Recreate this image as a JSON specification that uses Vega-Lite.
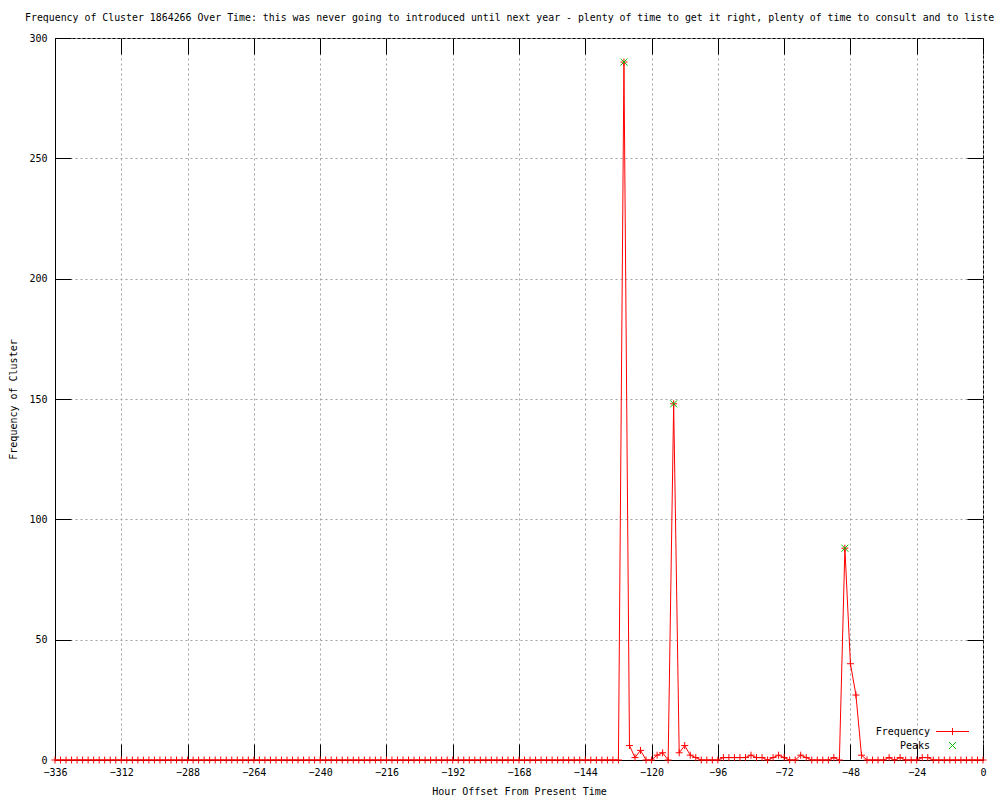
{
  "$schema": "https://vega.github.io/schema/vega-lite/v6.json",
  "width": 928,
  "height": 722,
  "autosize": {"type": "none"},
  "padding": {"left": 55, "top": 38, "right": 17, "bottom": 40},
  "background": "white",
  "title": {
    "text": "Frequency of Cluster 1864266 Over Time: this was never going to introduced until next year - plenty of time to get it right, plenty of time to consult and to liste",
    "anchor": "start",
    "frame": "group",
    "dx": -30,
    "dy": 15,
    "offset": 17,
    "baseline": "alphabetic",
    "font": "DejaVu Sans Mono",
    "fontSize": 9.9,
    "fontWeight": "normal",
    "color": "black"
  },
  "datasets": {
    "freq": [
      {"h": -336, "f": 0}, {"h": -334, "f": 0}, {"h": -332, "f": 0}, {"h": -330, "f": 0}, {"h": -328, "f": 0},
      {"h": -326, "f": 0}, {"h": -324, "f": 0}, {"h": -322, "f": 0}, {"h": -320, "f": 0}, {"h": -318, "f": 0},
      {"h": -316, "f": 0}, {"h": -314, "f": 0}, {"h": -312, "f": 0}, {"h": -310, "f": 0}, {"h": -308, "f": 0},
      {"h": -306, "f": 0}, {"h": -304, "f": 0}, {"h": -302, "f": 0}, {"h": -300, "f": 0}, {"h": -298, "f": 0},
      {"h": -296, "f": 0}, {"h": -294, "f": 0}, {"h": -292, "f": 0}, {"h": -290, "f": 0}, {"h": -288, "f": 0},
      {"h": -286, "f": 0}, {"h": -284, "f": 0}, {"h": -282, "f": 0}, {"h": -280, "f": 0}, {"h": -278, "f": 0},
      {"h": -276, "f": 0}, {"h": -274, "f": 0}, {"h": -272, "f": 0}, {"h": -270, "f": 0}, {"h": -268, "f": 0},
      {"h": -266, "f": 0}, {"h": -264, "f": 0}, {"h": -262, "f": 0}, {"h": -260, "f": 0}, {"h": -258, "f": 0},
      {"h": -256, "f": 0}, {"h": -254, "f": 0}, {"h": -252, "f": 0}, {"h": -250, "f": 0}, {"h": -248, "f": 0},
      {"h": -246, "f": 0}, {"h": -244, "f": 0}, {"h": -242, "f": 0}, {"h": -240, "f": 0}, {"h": -238, "f": 0},
      {"h": -236, "f": 0}, {"h": -234, "f": 0}, {"h": -232, "f": 0}, {"h": -230, "f": 0}, {"h": -228, "f": 0},
      {"h": -226, "f": 0}, {"h": -224, "f": 0}, {"h": -222, "f": 0}, {"h": -220, "f": 0}, {"h": -218, "f": 0},
      {"h": -216, "f": 0}, {"h": -214, "f": 0}, {"h": -212, "f": 0}, {"h": -210, "f": 0}, {"h": -208, "f": 0},
      {"h": -206, "f": 0}, {"h": -204, "f": 0}, {"h": -202, "f": 0}, {"h": -200, "f": 0}, {"h": -198, "f": 0},
      {"h": -196, "f": 0}, {"h": -194, "f": 0}, {"h": -192, "f": 0}, {"h": -190, "f": 0}, {"h": -188, "f": 0},
      {"h": -186, "f": 0}, {"h": -184, "f": 0}, {"h": -182, "f": 0}, {"h": -180, "f": 0}, {"h": -178, "f": 0},
      {"h": -176, "f": 0}, {"h": -174, "f": 0}, {"h": -172, "f": 0}, {"h": -170, "f": 0}, {"h": -168, "f": 0},
      {"h": -166, "f": 0}, {"h": -164, "f": 0}, {"h": -162, "f": 0}, {"h": -160, "f": 0}, {"h": -158, "f": 0},
      {"h": -156, "f": 0}, {"h": -154, "f": 0}, {"h": -152, "f": 0}, {"h": -150, "f": 0}, {"h": -148, "f": 0},
      {"h": -146, "f": 0}, {"h": -144, "f": 0}, {"h": -142, "f": 0}, {"h": -140, "f": 0}, {"h": -138, "f": 0},
      {"h": -136, "f": 0}, {"h": -134, "f": 0}, {"h": -132, "f": 0}, {"h": -130, "f": 290}, {"h": -128, "f": 6},
      {"h": -126, "f": 1}, {"h": -124, "f": 4}, {"h": -122, "f": 0}, {"h": -120, "f": 0}, {"h": -118, "f": 2},
      {"h": -116, "f": 3}, {"h": -114, "f": 0}, {"h": -112, "f": 148}, {"h": -110, "f": 3}, {"h": -108, "f": 6},
      {"h": -106, "f": 2}, {"h": -104, "f": 1}, {"h": -102, "f": 0}, {"h": -100, "f": 0}, {"h": -98, "f": 0},
      {"h": -96, "f": 0}, {"h": -94, "f": 1}, {"h": -92, "f": 1}, {"h": -90, "f": 1}, {"h": -88, "f": 1},
      {"h": -86, "f": 1}, {"h": -84, "f": 2}, {"h": -82, "f": 1}, {"h": -80, "f": 1}, {"h": -78, "f": 0},
      {"h": -76, "f": 1}, {"h": -74, "f": 2}, {"h": -72, "f": 1}, {"h": -70, "f": 0}, {"h": -68, "f": 0},
      {"h": -66, "f": 2}, {"h": -64, "f": 1}, {"h": -62, "f": 0}, {"h": -60, "f": 0}, {"h": -58, "f": 0},
      {"h": -56, "f": 0}, {"h": -54, "f": 1}, {"h": -52, "f": 0}, {"h": -50, "f": 88}, {"h": -48, "f": 40},
      {"h": -46, "f": 27}, {"h": -44, "f": 2}, {"h": -42, "f": 0}, {"h": -40, "f": 0}, {"h": -38, "f": 0},
      {"h": -36, "f": 0}, {"h": -34, "f": 1}, {"h": -32, "f": 0}, {"h": -30, "f": 1}, {"h": -28, "f": 0},
      {"h": -26, "f": 0}, {"h": -24, "f": 0}, {"h": -22, "f": 1}, {"h": -20, "f": 1}, {"h": -18, "f": 0},
      {"h": -16, "f": 0}, {"h": -14, "f": 0}, {"h": -12, "f": 0}, {"h": -10, "f": 0}, {"h": -8, "f": 0},
      {"h": -6, "f": 0}, {"h": -4, "f": 0}, {"h": -2, "f": 0}, {"h": 0, "f": 0}
    ],
    "peaks": [
      {"h": -130, "f": 290},
      {"h": -112, "f": 148},
      {"h": -50, "f": 88}
    ]
  },
  "config": {
    "view": {"stroke": "black", "strokeWidth": 1},
    "axis": {
      "labelFont": "DejaVu Sans Mono",
      "labelFontSize": 10,
      "labelColor": "black",
      "titleFont": "DejaVu Sans Mono",
      "titleFontSize": 10,
      "titleFontWeight": "normal",
      "titleColor": "black",
      "tickColor": "black",
      "tickWidth": 1,
      "domainColor": "black",
      "gridColor": "#a0a0a0",
      "gridDash": [2, 3],
      "gridWidth": 1,
      "gridOpacity": 1,
      "labelFlush": false,
      "labelOverlap": false
    }
  },
  "resolve": {"axis": {"x": "independent", "y": "independent"}},
  "layer": [
    {
      "data": {"name": "freq"},
      "mark": {"type": "line", "strokeWidth": 1},
      "encoding": {
        "x": {
          "field": "h", "type": "quantitative",
          "scale": {"domain": [-336, 0], "nice": false, "zero": false},
          "axis": {
            "orient": "bottom",
            "values": [-336, -312, -288, -264, -240, -216, -192, -168, -144, -120, -96, -72, -48, -24, 0],
            "grid": true,
            "tickSize": -16,
            "labelPadding": 23,
            "title": "Hour Offset From Present Time",
            "titlePadding": 9
          }
        },
        "y": {
          "field": "f", "type": "quantitative",
          "scale": {"domain": [0, 300], "nice": false},
          "axis": {
            "orient": "left",
            "values": [0, 50, 100, 150, 200, 250, 300],
            "grid": true,
            "tickSize": -16,
            "labelPadding": 24,
            "title": "Frequency of Cluster",
            "titlePadding": 10
          }
        },
        "color": {
          "datum": "Frequency",
          "scale": {"domain": ["Frequency", "Peaks"], "range": ["#ff0000", "#00c000"]},
          "legend": {
            "orient": "none",
            "legendX": 892,
            "legendY": 688,
            "title": null,
            "padding": 0,
            "labelFont": "DejaVu Sans Mono",
            "labelFontSize": 10,
            "labelColor": "black",
            "labelAlign": "right",
            "labelOffset": -28,
            "symbolSize": 100,
            "symbolStrokeWidth": 1,
            "rowPadding": 3,
            "encode": {
              "symbols": {
                "update": {
                  "shape": {"signal": "datum.value === 'Frequency' ? 'M-3.3,0L3.3,0M0,-0.7L0,0.7' : 'M-0.7,-0.7L0.7,0.7M-0.7,0.7L0.7,-0.7'"},
                  "stroke": {"signal": "datum.value === 'Frequency' ? '#ff0000' : '#00c000'"},
                  "fill": {"value": "transparent"},
                  "strokeWidth": {"value": 1},
                  "opacity": {"value": 1}
                }
              }
            }
          }
        }
      }
    },
    {
      "data": {"name": "freq"},
      "mark": {"type": "point", "shape": "M-1,0L1,0M0,-1L0,1", "filled": false, "size": 49, "strokeWidth": 1, "opacity": 1},
      "encoding": {
        "x": {
          "field": "h", "type": "quantitative",
          "axis": {
            "orient": "top",
            "values": [-336, -312, -288, -264, -240, -216, -192, -168, -144, -120, -96, -72, -48, -24, 0],
            "grid": false, "labels": false, "domain": false, "tickSize": -16, "title": null
          }
        },
        "y": {
          "field": "f", "type": "quantitative",
          "axis": {
            "orient": "right",
            "values": [0, 50, 100, 150, 200, 250, 300],
            "grid": false, "labels": false, "domain": false, "tickSize": -16, "title": null
          }
        },
        "color": {"datum": "Frequency"}
      }
    },
    {
      "data": {"name": "peaks"},
      "mark": {"type": "point", "shape": "M-1,-1L1,1M-1,1L1,-1", "filled": false, "size": 49, "strokeWidth": 1, "opacity": 1},
      "encoding": {
        "x": {"field": "h", "type": "quantitative", "axis": null},
        "y": {"field": "f", "type": "quantitative", "axis": null},
        "color": {"datum": "Peaks"}
      }
    }
  ]
}
